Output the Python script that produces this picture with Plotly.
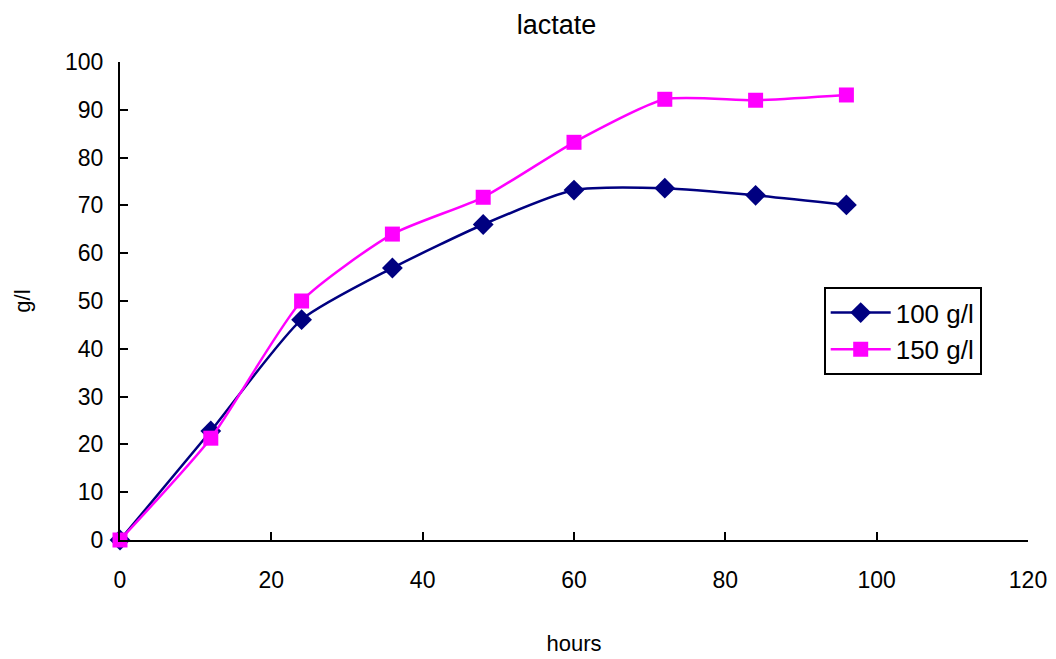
import plotly.graph_objects as go

hours = [0, 12, 24, 36, 48, 60, 72, 84, 96]
s100 = [0, 22.8, 46.1, 56.9, 66.0, 73.2, 73.6, 72.1, 70.1]
s150 = [0, 21.3, 50.0, 64.0, 71.7, 83.2, 92.2, 92.0, 93.1]

FONT = "Liberation Sans Narrow, Arial Narrow, Liberation Sans, Arial, sans-serif"

fig = go.Figure()
fig.add_trace(go.Scatter(x=hours, y=s100, name="100 g/l", mode="lines+markers",
                         line=dict(color="#000080", width=2.5, shape="spline", smoothing=0.6),
                         marker=dict(symbol="diamond", size=16, color="#000080")))
fig.add_trace(go.Scatter(x=hours, y=s150, name="150 g/l", mode="lines+markers",
                         line=dict(color="#FF00FF", width=2.5, shape="spline", smoothing=0.6),
                         marker=dict(symbol="square", size=15, color="#FF00FF")))

fig.update_layout(
    width=1056, height=659,
    margin=dict(l=120, r=28, t=62, b=119),
    paper_bgcolor="white", plot_bgcolor="white",
    font=dict(family=FONT, size=23, color="black"),
    title=dict(text="lactate", x=0.527, xanchor="center", y=0.963, yanchor="middle",
               font=dict(size=27, family=FONT)),
    xaxis=dict(range=[0, 120], tickvals=[0, 20, 40, 60, 80, 100, 120],
               showgrid=False, zeroline=False, showline=True, linecolor="black", linewidth=2,
               ticks="inside", ticklen=8, tickwidth=2, tickcolor="black",
               ticklabelstandoff=18, automargin=False,
               title=dict(text="hours", standoff=44, font=dict(size=22))),
    yaxis=dict(range=[0, 100], tickvals=list(range(0, 101, 10)),
               showgrid=False, zeroline=False, showline=True, linecolor="black", linewidth=2,
               ticks="inside", ticklen=8, tickwidth=2, tickcolor="black",
               ticklabelstandoff=10, automargin=False,
               title=dict(text="g/l", standoff=28, font=dict(size=22))),
    legend=dict(x=0.775, y=0.529, xanchor="left", yanchor="top",
                bordercolor="black", borderwidth=2, bgcolor="white",
                font=dict(size=26), tracegroupgap=0, itemwidth=60),
    showlegend=True,
)
fig.update_traces(cliponaxis=False)

fig.write_html("out.html")
